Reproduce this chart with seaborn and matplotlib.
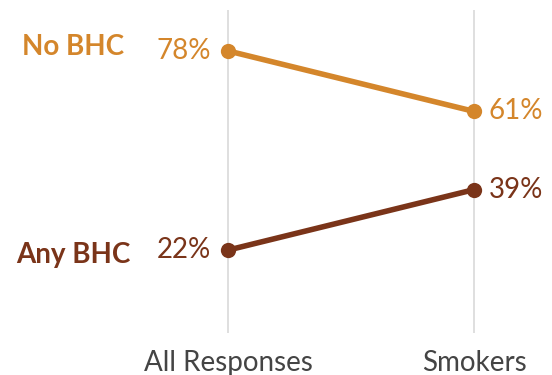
import pandas as pd
import seaborn as sns
import matplotlib.pyplot as plt

# data
groups = ['All Responses', 'Smokers']
no_bhc = [78, 61]
any_bhc = [22, 39]
series = ['No BHC', 'Any BHC']
colors = {'No BHC': '#D4862B', 'Any BHC': '#7A3419'}

df = pd.DataFrame({
    'group': groups * 2,
    'pos': [0, 1] * 2,
    'pct': no_bhc + any_bhc,
    'series': [series[0]] * 2 + [series[1]] * 2,
})

sns.set_style('white')
plt.rcParams['font.family'] = ['Lato', 'DejaVu Sans']

fig = plt.figure(figsize=(5.52, 3.75), dpi=100)
ax = fig.add_axes([0, 42 / 375, 1, 323 / 375])

sns.lineplot(data=df, x='pos', y='pct', hue='series', palette=colors,
             linewidth=4, marker='o', markersize=11, markeredgewidth=0,
             legend=False, ax=ax)

ax.set_xlim(-228 / 246, 324 / 246)
ax.set_ylim(-1.3, 89.5)
ax.set_xticks([0, 1])
ax.set_xticklabels(groups, fontsize=20, color='#444444')
ax.set_yticks([])
ax.tick_params(axis='x', length=0, pad=12)
ax.grid(axis='x', color='#d9d9d9', linewidth=1.2)
ax.set_xlabel('')
ax.set_ylabel('')
sns.despine(ax=ax, left=True, bottom=True)

for s in series:
    d = df[df['series'] == s]
    c = colors[s]
    ax.text(-0.07, d['pct'].iloc[0], f"{d['pct'].iloc[0]}%", ha='right',
            va='center', fontsize=20, color=c)
    ax.text(1.06, d['pct'].iloc[1], f"{d['pct'].iloc[1]}%", ha='left',
            va='center', fontsize=20, color=c)
    ax.text(-0.63, d['pct'].iloc[0] + (1 if s == 'No BHC' else -1.5), s,
            ha='center', va='center', fontsize=20, fontweight='bold', color=c)

fig.savefig('out.png', dpi=100)
